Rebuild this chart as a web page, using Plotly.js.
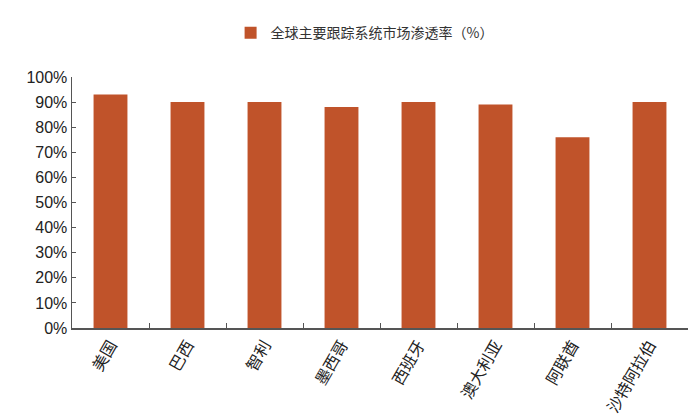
<!DOCTYPE html>
<html>
<head>
<meta charset="utf-8">
<script src="https://cdn.plot.ly/plotly-3.0.1.min.js"></script>
<style>
  body { margin: 0; background: #fff; }
  #chart { width: 700px; height: 420px; }
</style>
</head>
<body>
<div id="chart"></div>
<script>
// countries and tracker-system penetration (%)
var countries = ['美国', '巴西', '智利', '墨西哥', '西班牙', '澳大利亚', '阿联酋', '沙特阿拉伯'];
var penetration = [93, 90, 90, 88, 90, 89, 76, 90];
var yTicks = [0, 10, 20, 30, 40, 50, 60, 70, 80, 90, 100];
var yTickText = yTicks.map(function (v) { return v + '%'; });

var data = [{
  type: 'bar',
  name: '全球主要跟踪系统市场渗透率（%）',
  x: countries,
  y: penetration,
  marker: { color: '#C0532A' },
  width: 0.44,
  hoverinfo: 'x+y'
}];

var layout = {
  width: 700,
  height: 420,
  margin: { l: 72, r: 12, t: 77, b: 92 },
  paper_bgcolor: '#fff',
  plot_bgcolor: '#fff',
  font: { family: '"Liberation Sans", Arial, "Noto Sans CJK SC", sans-serif', color: '#222' },
  showlegend: true,
  legend: {
    orientation: 'h',
    x: 0.475, xanchor: 'center',
    y: 1.175, yanchor: 'middle',
    font: { family: '"Noto Sans CJK SC", sans-serif', size: 14, color: '#333' },
    itemwidth: 30
  },
  xaxis: {
    type: 'category',
    showline: true,
    linecolor: '#555',
    linewidth: 1.5,
    ticks: 'inside',
    ticklen: 5,
    tickcolor: '#555',
    tickson: 'boundaries',
    tickangle: -60,
    tickfont: { family: '"Noto Sans CJK SC", sans-serif', size: 16, color: '#222' },
    showgrid: false,
    zeroline: false
  },
  yaxis: {
    range: [0, 100],
    tickvals: yTicks,
    ticktext: yTickText,
    showline: true,
    linecolor: '#555',
    linewidth: 1.5,
    ticks: 'inside',
    ticklen: 4,
    tickcolor: '#555',
    tickfont: { size: 16, color: '#222' },
    showgrid: false,
    zeroline: false
  }
};

Plotly.newPlot('chart', data, layout, { displayModeBar: false, staticPlot: true });
</script>
</body>
</html>
